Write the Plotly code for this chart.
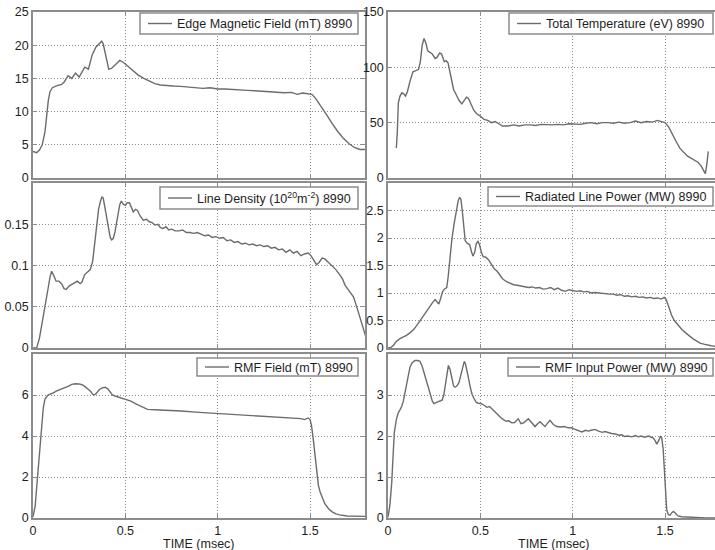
import plotly.graph_objects as go

# ---------------- data (time in msec, value) ----------------
SHOT = "8990"
X_TICKS = [0, 0.5, 1, 1.5]
X_TICK_TEXT = ["0", "0.5", "1", "1.5"]
X_TITLE = "TIME (msec)"

EDGE_FIELD = [(0, 4.0), (0.02, 3.8), (0.035, 4.2), (0.05, 5.0), (0.065, 7.0), (0.074, 9.7), (0.083, 11.7),
              (0.092, 13.0), (0.105, 13.6), (0.13, 13.9), (0.155, 14.1), (0.17, 14.5), (0.19, 15.4), (0.21, 15.0),
              (0.23, 15.8), (0.25, 15.2), (0.265, 16.0), (0.28, 16.7), (0.30, 16.4), (0.32, 18.5), (0.34, 19.7),
              (0.36, 20.2), (0.372, 20.6), (0.38, 20.2), (0.39, 19.0), (0.40, 17.5), (0.41, 16.4), (0.425, 16.5),
              (0.44, 16.9), (0.455, 17.4), (0.47, 17.7), (0.49, 17.4), (0.51, 16.9), (0.54, 16.2), (0.57, 15.5),
              (0.60, 15.0), (0.63, 14.6), (0.66, 14.2), (0.69, 14.0), (0.72, 13.9), (0.76, 13.85), (0.80, 13.8),
              (0.84, 13.7), (0.88, 13.65), (0.92, 13.5), (0.96, 13.6), (1.00, 13.4), (1.04, 13.4), (1.08, 13.3),
              (1.12, 13.3), (1.16, 13.2), (1.20, 13.15), (1.24, 13.05), (1.28, 13.0), (1.32, 12.9), (1.36, 12.85),
              (1.40, 12.9), (1.43, 12.6), (1.46, 12.8), (1.49, 12.7), (1.51, 12.6), (1.53, 12.0), (1.56, 10.8),
              (1.59, 9.5), (1.62, 8.2), (1.65, 7.0), (1.68, 6.0), (1.71, 5.2), (1.74, 4.6), (1.77, 4.3), (1.80, 4.3)]

TEMPERATURE = [(0.045, 27), (0.05, 40), (0.056, 68), (0.065, 74), (0.075, 77), (0.085, 76), (0.095, 74),
               (0.105, 78), (0.12, 88), (0.135, 96), (0.15, 97), (0.165, 98), (0.175, 105), (0.185, 120),
               (0.195, 126), (0.205, 122), (0.215, 115), (0.225, 114), (0.24, 112), (0.255, 108), (0.265, 109),
               (0.28, 113), (0.29, 112), (0.305, 105), (0.315, 106), (0.325, 104), (0.34, 92), (0.355, 80),
               (0.37, 75), (0.385, 70), (0.40, 67), (0.415, 70), (0.425, 73), (0.435, 72), (0.45, 66),
               (0.465, 61), (0.48, 58), (0.50, 56), (0.52, 53), (0.54, 52), (0.56, 50), (0.58, 51), (0.60, 49),
               (0.62, 47), (0.65, 47), (0.68, 48), (0.71, 47), (0.74, 48), (0.77, 48), (0.80, 47.5), (0.83, 48.5),
               (0.86, 48), (0.89, 48), (0.92, 48.5), (0.95, 48), (0.98, 49), (1.01, 49), (1.04, 48.5),
               (1.07, 49.5), (1.10, 50), (1.13, 49), (1.16, 50), (1.19, 50), (1.22, 49.5), (1.25, 50.5),
               (1.28, 49.5), (1.31, 50), (1.34, 51.5), (1.37, 50), (1.40, 51), (1.43, 50.5), (1.46, 52),
               (1.48, 51), (1.50, 50), (1.52, 46), (1.54, 39), (1.56, 33), (1.58, 27), (1.60, 23), (1.62, 20),
               (1.64, 18), (1.66, 16), (1.68, 14), (1.695, 11), (1.71, 6), (1.718, 4), (1.726, 12), (1.734, 24)]

LINE_DENSITY = [(0, 0), (0.02, 0), (0.035, 0.012), (0.05, 0.03), (0.065, 0.05), (0.08, 0.07), (0.092, 0.086),
                (0.101, 0.093), (0.112, 0.088), (0.125, 0.081), (0.14, 0.081), (0.155, 0.078), (0.168, 0.072),
                (0.18, 0.071), (0.195, 0.075), (0.21, 0.077), (0.225, 0.079), (0.24, 0.081), (0.255, 0.078),
                (0.265, 0.080), (0.28, 0.089), (0.295, 0.092), (0.31, 0.095), (0.323, 0.105), (0.335, 0.13),
                (0.345, 0.15), (0.355, 0.168), (0.365, 0.178), (0.373, 0.183), (0.38, 0.182), (0.388, 0.172),
                (0.395, 0.162), (0.402, 0.152), (0.41, 0.142), (0.418, 0.134), (0.426, 0.131), (0.435, 0.133),
                (0.444, 0.141), (0.453, 0.152), (0.462, 0.165), (0.47, 0.174), (0.478, 0.178), (0.49, 0.174),
                (0.50, 0.173), (0.51, 0.176), (0.522, 0.176), (0.532, 0.170), (0.543, 0.165), (0.555, 0.168),
                (0.565, 0.167), (0.58, 0.160), (0.597, 0.155), (0.615, 0.156), (0.63, 0.153), (0.645, 0.152),
                (0.66, 0.149), (0.675, 0.150), (0.69, 0.146), (0.705, 0.145), (0.72, 0.147), (0.735, 0.143),
                (0.75, 0.144), (0.77, 0.142), (0.79, 0.142), (0.81, 0.143), (0.83, 0.140), (0.85, 0.140),
                (0.87, 0.139), (0.89, 0.140), (0.91, 0.138), (0.93, 0.136), (0.95, 0.137), (0.97, 0.134),
                (0.99, 0.135), (1.01, 0.133), (1.03, 0.134), (1.05, 0.130), (1.07, 0.131), (1.09, 0.128),
                (1.11, 0.129), (1.13, 0.126), (1.15, 0.127), (1.17, 0.125), (1.19, 0.126), (1.21, 0.124),
                (1.23, 0.125), (1.25, 0.123), (1.27, 0.124), (1.29, 0.121), (1.31, 0.122), (1.33, 0.119),
                (1.35, 0.120), (1.37, 0.116), (1.39, 0.119), (1.41, 0.115), (1.43, 0.117), (1.45, 0.112),
                (1.47, 0.114), (1.49, 0.115), (1.505, 0.112), (1.52, 0.106), (1.535, 0.101), (1.55, 0.104),
                (1.565, 0.109), (1.58, 0.108), (1.60, 0.104), (1.62, 0.100), (1.64, 0.095), (1.66, 0.089),
                (1.675, 0.084), (1.69, 0.076), (1.705, 0.071), (1.72, 0.067), (1.735, 0.062), (1.75, 0.052),
                (1.765, 0.040), (1.78, 0.028), (1.80, 0.015)]

RADIATED_POWER = [(0, 0), (0.015, 0.01), (0.03, 0.05), (0.045, 0.12), (0.065, 0.17), (0.085, 0.2), (0.1, 0.23),
                  (0.12, 0.28), (0.14, 0.34), (0.16, 0.43), (0.18, 0.53), (0.2, 0.63), (0.22, 0.74),
                  (0.24, 0.82), (0.255, 0.88), (0.265, 0.84), (0.275, 0.8), (0.285, 0.9), (0.295, 1.02),
                  (0.305, 1.07), (0.318, 1.1), (0.326, 1.3), (0.334, 1.64), (0.345, 1.95), (0.357, 2.24),
                  (0.37, 2.5), (0.38, 2.68), (0.388, 2.74), (0.395, 2.7), (0.402, 2.5), (0.41, 2.2),
                  (0.418, 1.95), (0.43, 1.9), (0.442, 1.88), (0.452, 1.75), (0.46, 1.67), (0.47, 1.75),
                  (0.478, 1.9), (0.487, 1.94), (0.495, 1.88), (0.505, 1.75), (0.515, 1.66), (0.53, 1.65),
                  (0.545, 1.6), (0.56, 1.52), (0.575, 1.44), (0.59, 1.4), (0.605, 1.32), (0.62, 1.26),
                  (0.64, 1.21), (0.66, 1.18), (0.68, 1.15), (0.70, 1.14), (0.72, 1.13), (0.74, 1.12),
                  (0.76, 1.1), (0.78, 1.11), (0.80, 1.09), (0.82, 1.1), (0.84, 1.07), (0.86, 1.08), (0.88, 1.1),
                  (0.90, 1.06), (0.92, 1.09), (0.94, 1.05), (0.96, 1.03), (0.98, 1.06), (1.0, 1.05),
                  (1.02, 1.03), (1.04, 1.04), (1.06, 1.02), (1.08, 1.03), (1.10, 1.0), (1.12, 1.01),
                  (1.14, 1.0), (1.16, 0.99), (1.18, 0.99), (1.2, 0.98), (1.22, 0.98), (1.24, 0.96),
                  (1.26, 0.97), (1.28, 0.94), (1.30, 0.95), (1.32, 0.93), (1.34, 0.94), (1.36, 0.92),
                  (1.38, 0.93), (1.40, 0.91), (1.42, 0.92), (1.44, 0.9), (1.46, 0.91), (1.48, 0.89),
                  (1.495, 0.92), (1.505, 0.89), (1.515, 0.8), (1.525, 0.7), (1.535, 0.6), (1.55, 0.5),
                  (1.57, 0.41), (1.59, 0.34), (1.61, 0.28), (1.63, 0.22), (1.65, 0.17), (1.67, 0.13),
                  (1.69, 0.09), (1.71, 0.07), (1.73, 0.05), (1.75, 0.04), (1.77, 0.03), (1.80, 0.03)]

RMF_FIELD = [(0, 0.05), (0.005, 0.3), (0.012, 0.6), (0.02, 1.5), (0.029, 2.5), (0.038, 3.7), (0.047, 4.8),
             (0.056, 5.4), (0.065, 5.8), (0.08, 5.98), (0.095, 6.05), (0.11, 6.1), (0.128, 6.2), (0.15, 6.27),
             (0.173, 6.33), (0.19, 6.42), (0.21, 6.52), (0.23, 6.55), (0.25, 6.54), (0.265, 6.5), (0.28, 6.42),
             (0.295, 6.32), (0.31, 6.2), (0.322, 6.05), (0.33, 6.0), (0.34, 6.05), (0.35, 6.18), (0.36, 6.27),
             (0.375, 6.35), (0.39, 6.38), (0.405, 6.3), (0.417, 6.13), (0.43, 6.0), (0.444, 5.95), (0.47, 5.88),
             (0.5, 5.8), (0.53, 5.7), (0.56, 5.55), (0.59, 5.42), (0.62, 5.3), (0.66, 5.28), (0.72, 5.26),
             (0.8, 5.22), (0.9, 5.15), (1.0, 5.1), (1.1, 5.05), (1.2, 4.99), (1.3, 4.94), (1.4, 4.88),
             (1.45, 4.85), (1.47, 4.8), (1.49, 4.88), (1.5, 4.8), (1.508, 4.5), (1.518, 3.8), (1.527, 3.0),
             (1.536, 2.2), (1.545, 1.6), (1.555, 1.25), (1.565, 1.0), (1.58, 0.7), (1.6, 0.45), (1.62, 0.3),
             (1.64, 0.2), (1.66, 0.15), (1.7, 0.1), (1.75, 0.09), (1.8, 0.08)]

RMF_POWER = [(0, 0.03), (0.01, 0.3), (0.02, 0.85), (0.028, 1.6), (0.034, 2.08), (0.045, 2.4), (0.056, 2.57),
             (0.066, 2.65), (0.074, 2.72), (0.083, 2.85), (0.092, 3.06), (0.1, 3.3), (0.11, 3.55), (0.119, 3.68),
             (0.13, 3.78), (0.146, 3.84), (0.16, 3.84), (0.173, 3.82), (0.185, 3.7), (0.2, 3.47), (0.213, 3.25),
             (0.227, 3.02), (0.24, 2.85), (0.249, 2.79), (0.26, 2.82), (0.272, 2.84), (0.285, 2.86),
             (0.294, 2.88), (0.302, 3.0), (0.309, 3.23), (0.318, 3.55), (0.327, 3.72), (0.336, 3.62),
             (0.345, 3.43), (0.355, 3.22), (0.363, 3.19), (0.373, 3.22), (0.384, 3.3), (0.395, 3.5),
             (0.405, 3.72), (0.413, 3.82), (0.42, 3.75), (0.428, 3.6), (0.435, 3.43), (0.445, 3.2),
             (0.455, 3.02), (0.465, 2.92), (0.478, 2.82), (0.49, 2.8), (0.505, 2.79), (0.52, 2.75),
             (0.535, 2.7), (0.55, 2.72), (0.565, 2.65), (0.58, 2.6), (0.595, 2.52), (0.61, 2.45), (0.625, 2.4),
             (0.64, 2.36), (0.655, 2.37), (0.67, 2.32), (0.685, 2.33), (0.705, 2.42), (0.72, 2.3),
             (0.735, 2.32), (0.76, 2.42), (0.78, 2.3), (0.796, 2.23), (0.81, 2.3), (0.823, 2.35),
             (0.838, 2.28), (0.85, 2.23), (0.865, 2.32), (0.877, 2.38), (0.895, 2.28), (0.913, 2.23),
             (0.935, 2.22), (0.955, 2.23), (0.976, 2.2), (0.995, 2.2), (1.01, 2.17), (1.03, 2.14), (1.05, 2.1),
             (1.07, 2.14), (1.085, 2.12), (1.1, 2.14), (1.12, 2.16), (1.14, 2.12), (1.16, 2.09), (1.175, 2.11),
             (1.193, 2.08), (1.21, 2.06), (1.23, 2.05), (1.25, 2.02), (1.265, 2.03), (1.28, 1.99), (1.3, 2.0),
             (1.32, 1.98), (1.34, 2.01), (1.355, 1.98), (1.37, 2.0), (1.39, 1.97), (1.41, 2.0), (1.425, 1.98),
             (1.437, 1.95), (1.447, 1.88), (1.455, 1.8), (1.465, 1.88), (1.475, 2.0), (1.482, 1.95),
             (1.49, 1.67), (1.496, 1.2), (1.5, 0.85), (1.505, 0.45), (1.509, 0.2), (1.518, 0.08),
             (1.527, 0.07), (1.537, 0.13), (1.545, 0.16), (1.555, 0.12), (1.57, 0.05), (1.59, 0.03),
             (1.62, 0.02), (1.65, 0.02), (1.69, 0.01), (1.72, 0.0), (1.8, 0.0)]

# panel definitions: (data, legend label, y range, y ticks)
PANELS = [
    (EDGE_FIELD, "Edge Magnetic Field (mT) " + SHOT, [0, 25], [0, 5, 10, 15, 20, 25]),
    (TEMPERATURE, "Total Temperature (eV) " + SHOT, [0, 150], [0, 50, 100, 150]),
    (LINE_DENSITY, "Line Density (10<sup>20</sup>m<sup>-2</sup>) " + SHOT, [0, 0.2], [0, 0.05, 0.1, 0.15]),
    (RADIATED_POWER, "Radiated Line Power (MW) " + SHOT, [0, 3], [0, 0.5, 1, 1.5, 2, 2.5]),
    (RMF_FIELD, "RMF Field (mT) " + SHOT, [0, 8], [0, 2, 4, 6]),
    (RMF_POWER, "RMF Input Power (MW) " + SHOT, [0, 4], [0, 1, 2, 3]),
]

# ---------------- layout geometry (window pixels) ----------------
W, H = 715, 550
COL_PX = [(33, 365), (388, 715)]
ROW_PX = [(12, 178), (183, 348), (354, 518)]
PX_PER_MS = 184.7
# legend boxes (left, top, right, bottom) in window pixels
LEG_BOX = [(140, 13, 358, 34), (509, 13, 713, 34),
           (160, 187, 358, 209), (488, 187, 713, 206),
           (197, 358, 358, 376), (508, 358, 713, 376)]
XTITLE_POS = [(199, 544), (554, 544)]


def fx(px):
    return px / W


def fy(py):
    return 1 - py / H


FONT = "Liberation Sans, Arial, Helvetica, sans-serif"
FS = 12.5
LINE_COLOR = "#6c6c6c"
FRAME_COLOR = "#8c8c8c"
GRID_COLOR = "#8a8a8a"
TEXT_COLOR = "#1e1e1e"

fig = go.Figure()
layout = dict(
    width=W, height=H,
    margin=dict(l=0, r=0, t=0, b=0, autoexpand=False),
    paper_bgcolor="white", plot_bgcolor="white",
    font=dict(family=FONT, size=FS, color=TEXT_COLOR),
    showlegend=False,
)
shapes = []
annotations = []

for i, (data, label, yr, yt) in enumerate(PANELS):
    r, c = divmod(i, 2)
    n = i + 1
    sfx = "" if n == 1 else str(n)
    x0p, x1p = COL_PX[c]
    y0p, y1p = ROW_PX[r]
    t = [p[0] for p in data]
    v = [p[1] for p in data]
    fig.add_trace(go.Scatter(
        x=t, y=v, mode="lines", name=label,
        line=dict(color=LINE_COLOR, width=1.4),
        xaxis="x" + sfx, yaxis="y" + sfx,
        hoverinfo="skip",
    ))
    xmax = (x1p - x0p) / PX_PER_MS
    bottom = (r == 2)
    layout["xaxis" + sfx] = dict(
        domain=[fx(x0p), min(1.0, fx(x1p))], anchor="y" + sfx,
        range=[0, xmax], tickvals=X_TICKS, ticktext=X_TICK_TEXT,
        showticklabels=bottom, ticks="inside", ticklen=4, tickcolor=FRAME_COLOR,
        showline=True, linecolor=FRAME_COLOR, linewidth=1.5, mirror="allticks",
        showgrid=True, gridcolor=GRID_COLOR, griddash="1px,2px", gridwidth=1,
        zeroline=False, tickfont=dict(size=FS, color=TEXT_COLOR),
        ticklabelstandoff=0, ticklabeloverflow="allow", automargin=False,
    )
    layout["yaxis" + sfx] = dict(
        domain=[fy(y1p), fy(y0p)], anchor="x" + sfx,
        range=yr, tickvals=yt,
        ticks="inside", ticklen=4, tickcolor=FRAME_COLOR,
        showline=True, linecolor=FRAME_COLOR, linewidth=1.5, mirror="allticks",
        showgrid=True, gridcolor=GRID_COLOR, griddash="1px,2px", gridwidth=1,
        zeroline=False, tickfont=dict(size=FS, color=TEXT_COLOR),
        ticklabelstandoff=0, ticklabeloverflow="allow", automargin=False,
    )
    # legend box drawn in the upper right corner of each panel
    bl, bt, br, bb = LEG_BOX[i]
    ym = (bt + bb) / 2
    shapes.append(dict(type="rect", xref="paper", yref="paper",
                       x0=fx(bl), x1=fx(br), y0=fy(bb), y1=fy(bt),
                       fillcolor="white", line=dict(color=FRAME_COLOR, width=1.5), layer="above"))
    shapes.append(dict(type="line", xref="paper", yref="paper",
                       x0=fx(bl + 8), x1=fx(bl + 32), y0=fy(ym), y1=fy(ym),
                       line=dict(color=LINE_COLOR, width=1.4), layer="above"))
    annotations.append(dict(text=label, xref="paper", yref="paper",
                            x=fx(bl + 35), y=fy(ym + 0.5), xanchor="left", yanchor="middle",
                            showarrow=False, font=dict(family=FONT, size=FS, color=TEXT_COLOR)))

for (tx, ty) in XTITLE_POS:
    annotations.append(dict(text=X_TITLE, xref="paper", yref="paper",
                            x=fx(tx), y=fy(ty), xanchor="center", yanchor="middle",
                            showarrow=False, font=dict(family=FONT, size=FS, color=TEXT_COLOR)))

layout["shapes"] = shapes
layout["annotations"] = annotations
fig.update_layout(**layout)
# remove the default 8px page margin so the figure fills the 715x550 window
fig.write_html("out.html", config={"displayModeBar": False},
               post_script="document.body.style.margin='0px';")
